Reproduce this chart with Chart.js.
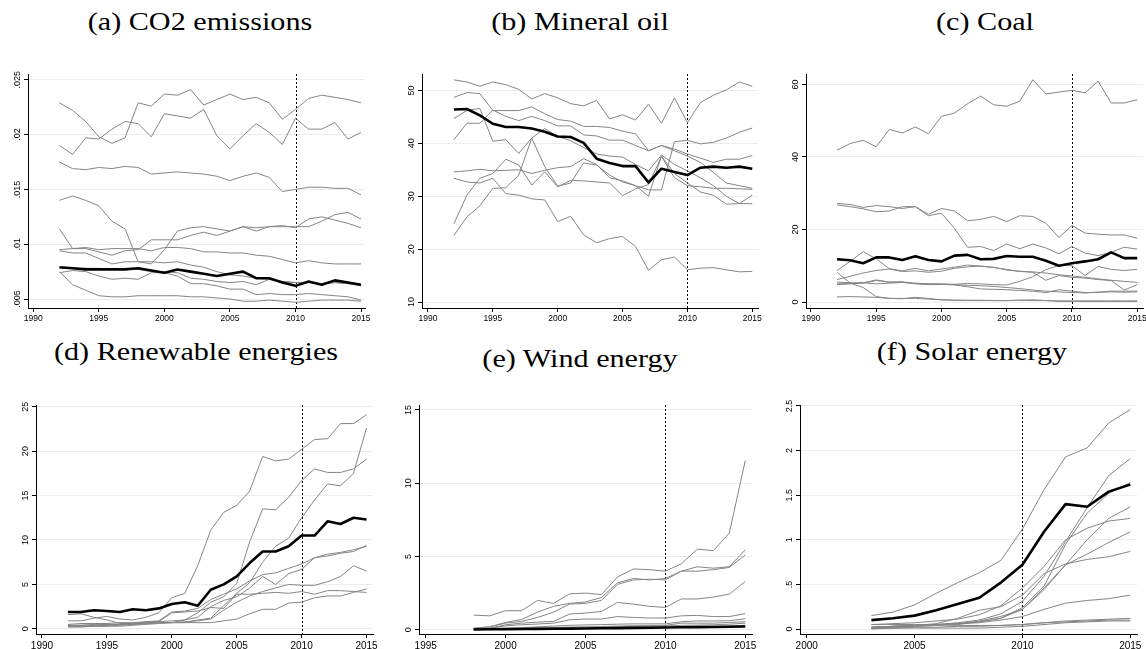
<!DOCTYPE html>
<html>
<head>
<meta charset="utf-8">
<script src="https://cdn.jsdelivr.net/npm/chart.js@4.4.1/dist/chart.umd.min.js"></script>
<style>
body{margin:0;background:#fff;width:1146px;height:649px;overflow:hidden;position:relative}
.ttl{position:absolute;font-family:"Liberation Serif",serif;font-size:26px;line-height:26px;white-space:nowrap;color:#000;transform:translateX(-50%) scaleX(1.16)}
canvas{position:absolute}
</style>
</head>
<body>
<div class="ttl" style="left:200px;top:9px">(a) CO2 emissions</div>
<div class="ttl" style="left:580px;top:9px">(b) Mineral oil</div>
<div class="ttl" style="left:985px;top:9px">(c) Coal</div>
<div class="ttl" style="left:196px;top:339px">(d) Renewable energies</div>
<div class="ttl" style="left:580px;top:346px">(e) Wind energy</div>
<div class="ttl" style="left:972px;top:339px">(f) Solar energy</div>
<script>
// years on the x axis
const years9215 = [1992,1993,1994,1995,1996,1997,1998,1999,2000,2001,2002,2003,2004,2005,2006,2007,2008,2009,2010,2011,2012,2013,2014,2015];
const years9815 = [1998,1999,2000,2001,2002,2003,2004,2005,2006,2007,2008,2009,2010,2011,2012,2013,2014,2015];
const years0315 = [2003,2004,2005,2006,2007,2008,2009,2010,2011,2012,2013,2014,2015];

// (a) CO2 emissions
const co2_1 = [.0229,.0222,.0212,.0198,.0192,.0197,.0229,.0226,.0237,.0236,.0241,.0227,.0232,.0237,.0232,.0234,.0229,.0214,.0223,.0233,.0236,.0234,.0232,.0229];
const co2_2 = [.0190,.0182,.0197,.0196,.0205,.0212,.0210,.0198,.0219,.0217,.0215,.0223,.0199,.0187,.0199,.0210,.0202,.0191,.0215,.0205,.0205,.0211,.0196,.0202];
const co2_3 = [.0175,.0169,.0168,.0170,.0169,.0171,.0170,.0164,.0165,.0166,.0165,.0164,.0162,.0158,.0162,.0165,.0161,.0148,.0150,.0152,.0152,.0151,.0151,.0145];
const co2_4 = [.0140,.0144,.0140,.0135,.0121,.0114,.0084,.0082,.0095,.0112,.0115,.0116,.0114,.0112,.0116,.0112,.0116,.0117,.0115,.0123,.0125,.0122,.0119,.0115];
const co2_5 = [.0114,.0096,.0096,.0093,.0090,.0094,.0095,.0104,.0104,.0104,.0108,.0111,.0108,.0112,.0116,.0115,.0116,.0116,.0116,.0116,.0121,.0127,.0129,.0123];
const co2_6 = [.0095,.0096,.0097,.0095,.0096,.0096,.0096,.0094,.0097,.0097,.0096,.0093,.0093,.0092,.0092,.0090,.0089,.0086,.0083,.0085,.0083,.0082,.0082,.0082];
const co2_7 = [.0094,.0092,.0092,.0087,.0082,.0084,.0084,.0084,.0083,.0084,.0081,.0079,.0075,.0072,.0071,.0069,.0068,.0066,.0065,.0065,.0064,.0065,.0064,.0063];
const co2_8 = [.0074,.0076,.0075,.0071,.0068,.0069,.0068,.0074,.0074,.0071,.0064,.0064,.0062,.0059,.0059,.0054,.0055,.0054,.0054,.0055,.0054,.0053,.0052,.0049];
const co2_9 = [.0075,.0063,.0058,.0053,.0052,.0052,.0053,.0053,.0053,.0053,.0052,.0052,.0051,.0050,.0048,.0048,.0049,.0048,.0047,.0048,.0049,.0049,.0049,.0048];
const co2_10 = [.0078,.0078,.0078,.0078,.0077,.0078,.0077,.0075,.0075,.0074,.0069,.0068,.0066,.0065,.0066,.0063,.0068,.0066,.0065,.0065,.0064,.0065,.0064,.0062];
const co2Mean = [.0079,.0078,.0077,.0077,.0077,.0077,.0078,.0076,.0074,.0077,.0075,.0073,.0071,.0073,.0075,.0069,.0069,.0065,.0062,.0066,.0063,.0067,.0065,.0063];
const co2Ticks = [.005,.01,.015,.02,.025];
const co2Labels = ['.005','.01','.015','.02','.025'];

// (b) Mineral oil
const oil_1 = [52.0,51.6,50.8,51.6,51.1,50.2,48.4,49.4,48.6,47.5,47.1,48.1,44.6,45.4,44.4,47.4,43.8,48.6,43.9,47.7,49.1,50.1,51.6,50.8];
const oil_2 = [48.7,49.6,49.4,46.2,46.2,46.2,46.9,45.6,44.5,44.2,43.2,43.2,43.0,42.3,41.8,38.6,39.6,38.9,38.0,37.2,36.4,37.0,37.0,37.7];
const oil_3 = [44.7,46.2,46.6,40.4,40.7,38.1,41.0,42.8,41.3,40.5,39.2,38.0,37.6,37.4,36.0,34.8,37.8,36.0,34.8,33.5,32.0,30.0,28.6,28.6];
const oil_4 = [40.7,43.8,43.8,46.3,45.1,44.3,45.1,44.3,43.3,43.3,41.6,41.4,40.6,40.6,39.6,38.6,39.6,38.6,37.6,36.4,34.5,32.5,32.0,31.5];
const oil_5 = [34.6,34.8,35.1,34.8,34.9,35.0,34.3,34.9,35.4,35.6,37.1,36.0,33.5,32.9,32.0,31.2,31.2,40.3,40.6,39.9,40.2,41.0,42.1,42.9];
const oil_6 = [33.4,32.7,32.5,33.4,30.5,30.2,29.5,29.3,25.2,26.2,22.7,21.2,22.0,22.4,20.5,16.0,18.0,18.5,16.1,16.4,16.5,16.1,15.7,15.8];
const oil_7 = [24.8,30.2,33.4,34.3,37.0,35.9,32.1,34.6,31.8,33.0,32.9,32.7,32.5,30.1,31.4,32.2,37.5,33.5,32.0,31.8,31.5,31.5,31.4,31.3];
const oil_8 = [22.6,26.1,28.2,31.5,31.6,34.0,41.0,35.6,31.9,32.5,36.3,35.9,34.0,32.7,32.0,30.0,37.6,34.3,32.5,30.8,30.2,28.5,28.6,30.2];
const oilMean = [46.4,46.5,45.3,43.7,43.1,43.1,42.8,42.2,41.3,41.2,40.1,37.1,36.3,35.7,35.7,32.6,35.2,34.6,34.0,35.4,35.6,35.4,35.6,35.2];
const oilTicks = [10,20,30,40,50];
const oilLabels = ['10','20','30','40','50'];

// (c) Coal
const coal_1 = [41.9,43.7,44.6,42.8,47.6,46.6,48.3,46.4,51.2,52.1,54.7,56.8,54.4,54.0,55.4,61.3,57.4,57.9,58.4,57.7,60.9,54.9,54.9,55.8];
const coal_2 = [27.2,26.9,26.1,26.6,26.3,25.8,26.3,24.2,25.8,25.1,22.4,22.8,23.6,22.2,23.8,23.6,21.7,17.8,21.1,19.0,18.7,18.5,18.5,17.6];
const coal_3 = [26.8,26.3,25.7,24.9,25.1,26.3,26.3,23.8,24.5,20.3,15.1,15.3,14.2,16.0,14.7,16.0,14.9,13.3,15.3,13.5,12.8,13.7,15.1,14.6];
const coal_4 = [8.7,11.2,13.9,11.9,9.2,8.6,9.3,8.6,9.1,9.6,10.2,9.9,9.6,8.8,8.5,8.2,6.0,7.3,6.8,6.6,6.2,5.9,3.3,4.8];
const coal_5 = [6.2,7.1,8.0,8.7,9.1,8.4,8.6,8.2,8.5,9.3,9.7,9.9,9.5,9.0,8.4,8.3,8.0,7.5,7.2,6.8,6.4,6.0,5.7,5.4];
const coal_6 = [5.5,5.3,5.3,6.1,5.5,5.6,5.0,4.8,4.9,4.9,5.1,5.0,4.8,4.7,5.7,7.0,8.9,10.1,10.0,7.3,9.8,9.0,8.7,9.0];
const coal_7 = [5.0,5.1,5.2,5.9,5.5,5.4,5.2,5.0,4.9,4.7,4.2,3.6,3.5,3.4,3.2,3.0,2.6,3.4,3.0,2.6,2.7,3.0,3.0,3.0];
const coal_8 = [4.8,5.0,5.3,5.0,5.2,5.4,5.1,5.0,5.0,4.8,4.6,4.5,4.3,4.0,3.7,3.3,3.0,2.8,2.6,2.5,2.7,2.8,2.7,2.8];
const coal_9 = [8.2,5.2,4.0,1.5,1.0,0.9,1.3,1.0,0.6,0.5,0.5,0.5,0.4,0.4,0.5,0.4,0.4,0.3,0.3,0.3,0.3,0.3,0.3,0.3];
const coal_10 = [1.4,1.5,1.4,1.3,1.0,1.0,1.0,0.8,0.6,0.5,0.4,0.4,0.4,0.4,0.5,0.6,0.4,0.2,0.2,0.2,0.2,0.2,0.2,0.2];
const coalMean = [11.8,11.5,10.7,12.3,12.3,11.6,12.6,11.6,11.2,12.8,13.0,11.8,11.9,12.7,12.5,12.5,11.4,10.0,10.7,11.2,11.8,13.7,12.1,12.1];
const coalTicks = [0,20,40,60];
const coalLabels = ['0','20','40','60'];

// (d) Renewable energies
const ren_1 = [0.9,0.9,1.2,1.4,1.1,1.0,1.3,1.8,3.5,4.0,7.1,11.1,13.1,13.9,15.5,19.4,18.9,19.1,20.2,21.3,21.4,23.1,23.1,24.1];
const ren_2 = [0.3,0.3,0.3,0.4,0.5,0.5,0.6,0.7,0.7,1.0,1.8,3.0,3.6,5.1,9.8,13.5,13.4,14.8,16.7,18.0,17.6,17.6,18.0,19.1];
const ren_3 = [0.2,0.2,0.3,0.3,0.3,0.4,0.5,0.6,0.7,0.7,1.0,1.2,2.6,4.0,5.2,7.5,9.3,10.2,12.5,14.5,16.3,16.1,17.5,22.6];
const ren_4 = [0.5,0.6,0.6,0.6,0.7,0.7,0.8,0.8,0.9,1.0,1.3,2.5,3.2,3.6,4.6,5.9,5.0,6.2,6.7,8.0,8.2,8.5,8.7,9.4];
const ren_5 = [0.4,0.4,0.4,0.5,0.5,0.6,0.8,0.9,1.9,2.0,2.3,3.3,3.9,4.5,5.4,6.1,6.3,6.8,7.3,8.0,8.4,8.6,8.9,9.3];
const ren_6 = [0.4,0.4,0.5,0.5,0.5,0.6,0.6,0.7,0.7,0.8,0.9,1.1,2.1,3.0,3.7,4.2,4.6,5.0,4.9,4.9,5.3,5.9,7.1,6.5];
const ren_7 = [0.3,0.3,0.3,0.3,0.4,0.5,0.6,0.7,0.7,0.7,0.7,0.7,0.9,1.1,1.7,2.2,2.2,2.9,3.0,3.5,3.7,3.7,4.1,4.5];
const ren_8 = [1.6,1.7,1.3,1.0,0.6,0.6,0.7,0.8,1.8,1.9,2.0,2.4,2.3,3.9,3.9,4.0,4.1,4.0,4.2,3.9,4.3,4.3,4.2,4.1];
const renMean = [1.9,1.9,2.1,2.0,1.9,2.2,2.1,2.3,2.8,3.0,2.6,4.4,5.0,5.9,7.4,8.7,8.7,9.3,10.5,10.5,12.1,11.8,12.5,12.3];
const renTicks = [0,5,10,15,20,25];
const renLabels = ['0','5','10','15','20','25'];

// (e) Wind energy
const wind_1 = [1.0,0.95,1.3,1.3,2.0,1.8,2.45,2.5,2.4,3.6,4.15,4.1,4.0,4.5,5.5,5.4,6.6,11.55];
const wind_2 = [0.1,0.2,0.5,0.7,1.2,1.6,1.8,1.9,2.2,3.2,3.5,3.4,3.5,4.0,4.3,4.2,4.3,5.45];
const wind_3 = [0.1,0.2,0.45,0.57,0.84,1.2,1.75,1.8,2.0,3.1,3.4,3.45,3.4,4.0,4.0,4.1,4.25,5.1];
const wind_4 = [0.07,0.1,0.34,0.45,0.52,0.57,1.07,1.14,1.25,1.86,1.75,1.6,1.52,2.1,2.1,2.23,2.43,3.3];
const wind_5 = [0.07,0.09,0.27,0.34,0.39,0.45,0.68,0.73,0.73,0.9,0.84,0.8,0.8,0.95,0.98,0.9,0.9,1.1];
const wind_6 = [0.05,0.06,0.1,0.15,0.2,0.25,0.3,0.33,0.35,0.38,0.4,0.4,0.4,0.55,0.6,0.6,0.62,0.75];
const wind_7 = [0.03,0.04,0.06,0.1,0.12,0.15,0.18,0.2,0.22,0.25,0.27,0.28,0.3,0.45,0.45,0.45,0.5,0.55];
const wind_8 = [0.02,0.03,0.05,0.07,0.09,0.11,0.13,0.15,0.17,0.2,0.22,0.24,0.26,0.3,0.32,0.34,0.38,0.45];
const wind_9 = [0.01,0.02,0.03,0.04,0.05,0.06,0.08,0.1,0.11,0.13,0.15,0.17,0.18,0.2,0.22,0.24,0.26,0.3];
const windMean = [0.02,0.03,0.04,0.05,0.06,0.07,0.08,0.09,0.1,0.11,0.13,0.14,0.15,0.17,0.18,0.19,0.2,0.22];
const windTicks = [0,5,10,15];
const windLabels = ['0','5','10','15'];

// (f) Solar energy
const sol_1 = [0.15,0.19,0.27,0.40,0.52,0.63,0.77,1.12,1.56,1.93,2.03,2.31,2.46];
const sol_2 = [0.02,0.03,0.04,0.05,0.07,0.10,0.17,0.31,0.59,0.98,1.36,1.72,1.91];
const sol_3 = [0.01,0.02,0.03,0.04,0.05,0.08,0.12,0.24,0.48,0.95,1.30,1.52,1.64];
const sol_4 = [0.02,0.03,0.04,0.05,0.06,0.08,0.12,0.22,0.44,0.72,1.00,1.24,1.37];
const sol_5 = [0.05,0.06,0.07,0.09,0.11,0.16,0.26,0.46,0.70,1.00,1.13,1.21,1.24];
const sol_6 = [0.01,0.02,0.03,0.04,0.06,0.09,0.14,0.22,0.46,0.72,0.84,0.97,1.09];
const sol_7 = [0.02,0.03,0.04,0.06,0.12,0.21,0.25,0.38,0.62,0.73,0.78,0.81,0.87];
const sol_8 = [0.02,0.03,0.04,0.05,0.06,0.07,0.10,0.14,0.22,0.29,0.32,0.34,0.38];
const sol_9 = [0.01,0.01,0.02,0.02,0.03,0.03,0.04,0.05,0.07,0.09,0.10,0.11,0.12];
const sol_10 = [0.05,0.05,0.05,0.05,0.04,0.04,0.04,0.05,0.07,0.08,0.09,0.10,0.10];
const sol_11 = [0.00,0.01,0.01,0.01,0.01,0.01,0.02,0.03,0.05,0.07,0.08,0.09,0.09];
const solMean = [0.10,0.12,0.15,0.21,0.28,0.35,0.52,0.72,1.09,1.40,1.37,1.54,1.62];
const solTicks = [0,0.5,1,1.5,2,2.5];
const solLabels = ['0','.5','1','1.5','2','2.5'];

const xTicks90 = [1990,1995,2000,2005,2010,2015];
const xTicks95 = [1995,2000,2005,2010,2015];
const xTicks00 = [2000,2005,2010,2015];
const refYear = 2010;

// rotated y tick labels, stata style
const yLabelPlugin = {
  id: 'yLabels',
  afterDraw(chart, args, opts) {
    const s = chart.scales.y, ctx = chart.ctx;
    ctx.save();
    ctx.font = '9px "Liberation Sans", Arial, sans-serif';
    ctx.fillStyle = '#000';
    ctx.textAlign = 'center';
    ctx.textBaseline = 'middle';
    s.ticks.forEach((t, i) => {
      ctx.save();
      ctx.translate(s.right - 10, s.getPixelForValue(t.value));
      ctx.rotate(-Math.PI / 2);
      ctx.fillText(opts.labels[i], 0, 0);
      ctx.restore();
    });
    ctx.restore();
  }
};

// dotted vertical line at the reference year
const refLinePlugin = {
  id: 'refLine',
  beforeDatasetsDraw(chart, args, opts) {
    const ctx = chart.ctx, a = chart.chartArea;
    const x = Math.round(chart.scales.x.getPixelForValue(opts.at)) + 0.5;
    ctx.save();
    ctx.strokeStyle = '#000';
    ctx.lineWidth = 1;
    ctx.setLineDash([2, 2]);
    ctx.beginPath();
    ctx.moveTo(x, a.top);
    ctx.lineTo(x, a.bottom);
    ctx.stroke();
    ctx.restore();
  }
};

const panels = [
  {box:[28,74,365,308], years:years9215, grays:[co2_1,co2_2,co2_3,co2_4,co2_5,co2_6,co2_7,co2_8,co2_9,co2_10], mean:co2Mean,
   y:[0.00418,0.02553], yTicks:co2Ticks, yLabels:co2Labels, x:[1989.6,2015.3], xTicks:xTicks90, xFont:8.5, xh:22},
  {box:[422,74,758,308], years:years9215, grays:[oil_1,oil_2,oil_3,oil_4,oil_5,oil_6,oil_7,oil_8], mean:oilMean,
   y:[8.87,53.11], yTicks:oilTicks, yLabels:oilLabels, x:[1989.54,2015.44], xTicks:xTicks90, xFont:8.5, xh:22},
  {box:[806,74,1143,308], years:years9215, grays:[coal_1,coal_2,coal_3,coal_4,coal_5,coal_6,coal_7,coal_8,coal_9,coal_10], mean:coalMean,
   y:[-1.65,62.89], yTicks:coalTicks, yLabels:coalLabels, x:[1989.62,2015.44], xTicks:xTicks90, xFont:8.5, xh:22},
  {box:[36,405,373,634], years:years9215, grays:[ren_1,ren_2,ren_3,ren_4,ren_5,ren_6,ren_7,ren_8], mean:renMean,
   y:[-0.58,25.19], yTicks:renTicks, yLabels:renLabels, x:[1989.54,2015.5], xTicks:xTicks90, xFont:10, xh:18},
  {box:[419,405,752,634], years:years9815, grays:[wind_1,wind_2,wind_3,wind_4,wind_5,wind_6,wind_7,wind_8,wind_9], mean:windMean,
   y:[-0.29,15.34], yTicks:windTicks, yLabels:windLabels, x:[1994.58,2015.42], xTicks:xTicks95, xFont:10, xh:18},
  {box:[800,405,1137,634], years:years0315, grays:[sol_1,sol_2,sol_3,sol_4,sol_5,sol_6,sol_7,sol_8,sol_9,sol_10,sol_11], mean:solMean,
   y:[-0.056,2.511], yTicks:solTicks, yLabels:solLabels, x:[1999.69,2015.31], xTicks:xTicks00, xFont:10, xh:18}
];

panels.forEach(p => {
  const [l, t, r, b] = p.box;
  const yw = 30, pt = 6, pr = 14;
  const W = yw + (r - l) + pr, H = pt + (b - t) + p.xh;
  const cv = document.createElement('canvas');
  cv.width = W; cv.height = H;
  cv.style.left = (l - yw) + 'px';
  cv.style.top = (t - pt) + 'px';
  cv.style.width = W + 'px';
  cv.style.height = H + 'px';
  document.body.appendChild(cv);

  const toPts = arr => arr.map((v, i) => ({x: p.years[i], y: v}));
  const datasets = p.grays.map(s => ({
    data: toPts(s), borderColor: '#858585', borderWidth: 1, pointRadius: 0, order: 1
  }));
  datasets.push({data: toPts(p.mean), borderColor: '#000', borderWidth: 2.6, pointRadius: 0, order: 0});

  new Chart(cv, {
    type: 'line',
    data: {datasets: datasets},
    options: {
      responsive: false,
      animation: false,
      devicePixelRatio: 1,
      layout: {padding: {top: pt, right: pr, left: 0, bottom: 0}},
      plugins: {
        legend: {display: false},
        tooltip: {enabled: false},
        yLabels: {labels: p.yLabels},
        refLine: {at: refYear}
      },
      elements: {line: {tension: 0, borderJoinStyle: 'round'}},
      scales: {
        x: {
          type: 'linear', min: p.x[0], max: p.x[1],
          afterBuildTicks: s => { s.ticks = p.xTicks.map(v => ({value: v})); },
          afterFit: s => { s.height = p.xh; },
          ticks: {
            autoSkip: false, maxRotation: 0, minRotation: 0, padding: 2, color: '#000',
            font: {family: '"Liberation Sans", Arial, sans-serif', size: p.xFont},
            callback: v => String(v)
          },
          grid: {drawOnChartArea: false, drawTicks: true, tickLength: 4, tickColor: '#000'},
          border: {display: true, color: '#000', width: 1}
        },
        y: {
          type: 'linear', min: p.y[0], max: p.y[1],
          afterBuildTicks: s => { s.ticks = p.yTicks.map(v => ({value: v})); },
          afterFit: s => { s.width = yw; },
          ticks: {display: false},
          grid: {drawOnChartArea: true, color: '#e6eeee', lineWidth: 1, drawTicks: true, tickLength: 4, tickColor: '#000'},
          border: {display: true, color: '#000', width: 1}
        }
      }
    },
    plugins: [yLabelPlugin, refLinePlugin]
  });
});
</script>
</body>
</html>
